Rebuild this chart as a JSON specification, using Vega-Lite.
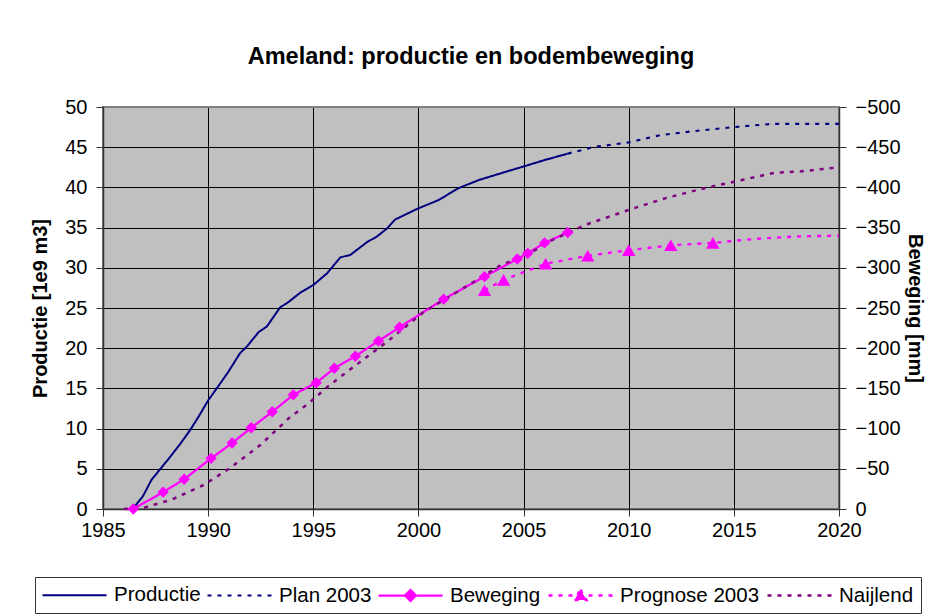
{
  "$schema": "https://vega.github.io/schema/vega-lite/v6.json",
  "width": 736,
  "height": 402,
  "autosize": {"type": "none"},
  "padding": {"left": 103, "top": 107, "right": 101, "bottom": 107},
  "background": "white",
  "title": {
    "text": "Ameland: productie en bodembeweging",
    "fontSize": 23.5,
    "fontWeight": "bold",
    "font": "Liberation Sans",
    "color": "black",
    "anchor": "middle",
    "frame": "group",
    "baseline": "alphabetic",
    "offset": 10
  },
  "datasets": {
    "prod": [
      {"series": "Productie", "year": 1986.44, "value": 0.1},
      {"series": "Productie", "year": 1986.9, "value": 1.6},
      {"series": "Productie", "year": 1987.3, "value": 3.6},
      {"series": "Productie", "year": 1987.7, "value": 4.9},
      {"series": "Productie", "year": 1988.2, "value": 6.5},
      {"series": "Productie", "year": 1988.7, "value": 8.2},
      {"series": "Productie", "year": 1989.14, "value": 9.8},
      {"series": "Productie", "year": 1989.55, "value": 11.5},
      {"series": "Productie", "year": 1990.0, "value": 13.5},
      {"series": "Productie", "year": 1990.41, "value": 15.0},
      {"series": "Productie", "year": 1990.97, "value": 17.1},
      {"series": "Productie", "year": 1991.52, "value": 19.4},
      {"series": "Productie", "year": 1991.84, "value": 20.2},
      {"series": "Productie", "year": 1992.4, "value": 22.0},
      {"series": "Productie", "year": 1992.79, "value": 22.7},
      {"series": "Productie", "year": 1993.43, "value": 25.1},
      {"series": "Productie", "year": 1993.75, "value": 25.6},
      {"series": "Productie", "year": 1994.38, "value": 26.9},
      {"series": "Productie", "year": 1995.02, "value": 27.9},
      {"series": "Productie", "year": 1995.65, "value": 29.3},
      {"series": "Productie", "year": 1996.29, "value": 31.3},
      {"series": "Productie", "year": 1996.76, "value": 31.6},
      {"series": "Productie", "year": 1997.56, "value": 33.2},
      {"series": "Productie", "year": 1998.03, "value": 33.9},
      {"series": "Productie", "year": 1998.51, "value": 34.9},
      {"series": "Productie", "year": 1998.89, "value": 36.0},
      {"series": "Productie", "year": 1999.52, "value": 36.8},
      {"series": "Productie", "year": 2000.0, "value": 37.4},
      {"series": "Productie", "year": 2000.94, "value": 38.4},
      {"series": "Productie", "year": 2001.9, "value": 39.9},
      {"series": "Productie", "year": 2002.85, "value": 40.9},
      {"series": "Productie", "year": 2004.1, "value": 41.9},
      {"series": "Productie", "year": 2005.0, "value": 42.6},
      {"series": "Productie", "year": 2006.0, "value": 43.4},
      {"series": "Productie", "year": 2007.1, "value": 44.2},
      {"series": "Plan 2003", "year": 2007.1, "value": 44.2},
      {"series": "Plan 2003", "year": 2008.3, "value": 45.0},
      {"series": "Plan 2003", "year": 2010.0, "value": 45.6},
      {"series": "Plan 2003", "year": 2011.5, "value": 46.5},
      {"series": "Plan 2003", "year": 2013.1, "value": 47.0},
      {"series": "Plan 2003", "year": 2015.0, "value": 47.5},
      {"series": "Plan 2003", "year": 2016.8, "value": 47.9},
      {"series": "Plan 2003", "year": 2020.0, "value": 47.9}
    ],
    "mm": [
      {"series": "Beweging", "year": 1986.44, "value": 0},
      {"series": "Beweging", "year": 1987.86, "value": -21},
      {"series": "Beweging", "year": 1988.86, "value": -37},
      {"series": "Beweging", "year": 1990.14, "value": -63},
      {"series": "Beweging", "year": 1991.14, "value": -82},
      {"series": "Beweging", "year": 1992.05, "value": -101},
      {"series": "Beweging", "year": 1993.05, "value": -121},
      {"series": "Beweging", "year": 1994.05, "value": -142},
      {"series": "Beweging", "year": 1995.14, "value": -157},
      {"series": "Beweging", "year": 1996.0, "value": -175},
      {"series": "Beweging", "year": 1997.0, "value": -190},
      {"series": "Beweging", "year": 1998.1, "value": -209},
      {"series": "Beweging", "year": 1999.1, "value": -226},
      {"series": "Beweging", "year": 2001.2, "value": -261},
      {"series": "Beweging", "year": 2003.14, "value": -289},
      {"series": "Beweging", "year": 2004.7, "value": -311},
      {"series": "Beweging", "year": 2005.2, "value": -318},
      {"series": "Beweging", "year": 2006.0, "value": -331},
      {"series": "Beweging", "year": 2007.1, "value": -344},
      {"series": "Prognose 2003", "year": 2003.14, "value": -272},
      {"series": "Prognose 2003", "year": 2004.05, "value": -285},
      {"series": "Prognose 2003", "year": 2006.05, "value": -305},
      {"series": "Prognose 2003", "year": 2008.05, "value": -315},
      {"series": "Prognose 2003", "year": 2010.0, "value": -322},
      {"series": "Prognose 2003", "year": 2012.0, "value": -328},
      {"series": "Prognose 2003", "year": 2014.0, "value": -331},
      {"series": "Prognose 2003", "year": 2016.0, "value": -336},
      {"series": "Prognose 2003", "year": 2018.0, "value": -339},
      {"series": "Prognose 2003", "year": 2020.0, "value": -340},
      {"series": "Naijlend", "year": 1986.0, "value": 0},
      {"series": "Naijlend", "year": 1987.0, "value": -2},
      {"series": "Naijlend", "year": 1988.3, "value": -12},
      {"series": "Naijlend", "year": 1989.8, "value": -30},
      {"series": "Naijlend", "year": 1991.1, "value": -52},
      {"series": "Naijlend", "year": 1992.5, "value": -80},
      {"series": "Naijlend", "year": 1993.84, "value": -113},
      {"series": "Naijlend", "year": 1994.76, "value": -131},
      {"series": "Naijlend", "year": 1995.68, "value": -152},
      {"series": "Naijlend", "year": 1996.62, "value": -171},
      {"series": "Naijlend", "year": 1997.54, "value": -189},
      {"series": "Naijlend", "year": 1998.46, "value": -207},
      {"series": "Naijlend", "year": 2000.2, "value": -244},
      {"series": "Naijlend", "year": 2002.6, "value": -282},
      {"series": "Naijlend", "year": 2003.9, "value": -303},
      {"series": "Naijlend", "year": 2005.3, "value": -318},
      {"series": "Naijlend", "year": 2006.4, "value": -335},
      {"series": "Naijlend", "year": 2008.0, "value": -354},
      {"series": "Naijlend", "year": 2010.0, "value": -372},
      {"series": "Naijlend", "year": 2011.8, "value": -387},
      {"series": "Naijlend", "year": 2013.6, "value": -399},
      {"series": "Naijlend", "year": 2015.0, "value": -407},
      {"series": "Naijlend", "year": 2016.9, "value": -418},
      {"series": "Naijlend", "year": 2018.2, "value": -420},
      {"series": "Naijlend", "year": 2020.0, "value": -425}
    ]
  },
  "encoding": {
    "x": {
      "field": "year",
      "type": "quantitative",
      "scale": {"domain": [1985, 2020], "nice": false, "zero": false},
      "axis": {
        "title": null,
        "values": [1985, 1990, 1995, 2000, 2005, 2010, 2015, 2020],
        "format": "d",
        "labelFlush": false,
        "labelPadding": 4,
        "grid": true
      }
    },
    "color": {
      "field": "series",
      "type": "nominal",
      "scale": {
        "domain": ["Productie", "Plan 2003", "Beweging", "Prognose 2003", "Naijlend"],
        "range": ["#000080", "#000080", "#FF00FF", "#FF00FF", "#800080"]
      },
      "legend": {
        "title": null,
        "orient": "none",
        "legendX": -68,
        "legendY": 470,
        "direction": "horizontal",
        "columns": 5,
        "padding": 7,
        "strokeColor": "#333333",
        "fillColor": "white",
        "labelFont": "Liberation Sans",
        "labelFontSize": 20.5,
        "labelColor": "black",
        "labelBaseline": "middle",
        "labelOffset": 28,
        "symbolOffset": 21,
        "symbolSize": 400,
        "symbolStrokeWidth": 2,
        "columnPadding": 2,
        "symbolType": "M-3.2,0H3.2",
        "encode": {
          "symbols": {
            "update": {
              "shape": {"signal": "datum.value === 'Beweging' ? 'M-3.2,0H3.2M0,-0.55L0.55,0L0,0.55L-0.55,0Z' : datum.value === 'Prognose 2003' ? 'M-3.2,0H3.2M0,-0.6L0.6,0.45L-0.6,0.45Z' : 'M-3.2,0H3.2'"},
              "fill": {"signal": "datum.value === 'Beweging' || datum.value === 'Prognose 2003' ? '#FF00FF' : 'transparent'"}
            }
          }
        }
      }
    },
    "strokeDash": {
      "field": "series",
      "type": "nominal",
      "scale": {
        "domain": ["Productie", "Plan 2003", "Beweging", "Prognose 2003", "Naijlend"],
        "range": [[1, 0], [4, 6], [1, 0], [4, 6], [4, 6]]
      },
      "legend": null
    },
    "strokeWidth": {
      "field": "series",
      "type": "nominal",
      "scale": {
        "domain": ["Productie", "Plan 2003", "Beweging", "Prognose 2003", "Naijlend"],
        "range": [2, 2.5, 1.6, 2.5, 2.5]
      },
      "legend": null
    }
  },
  "layer": [
    {
      "data": {"name": "prod"},
      "mark": {"type": "line"},
      "encoding": {
        "y": {
          "field": "value",
          "type": "quantitative",
          "scale": {"domain": [0, 50], "nice": false},
          "axis": {
            "orient": "left",
            "title": "Productie [1e9 m3]",
            "values": [0, 5, 10, 15, 20, 25, 30, 35, 40, 45, 50],
            "grid": true,
            "gridColor": {"condition": {"test": "datum.value == 50", "value": "#808080"}, "value": "#000000"},
            "labelPadding": 9,
            "titlePadding": 14
          }
        }
      }
    },
    {
      "data": {"name": "mm"},
      "encoding": {
        "y": {
          "field": "value",
          "type": "quantitative",
          "scale": {"domain": [0, -500], "nice": false},
          "axis": {
            "orient": "right",
            "title": "Beweging [mm]",
            "values": [0, -50, -100, -150, -200, -250, -300, -350, -400, -450, -500],
            "grid": false,
            "labelPadding": 9,
            "titlePadding": 4
          }
        }
      },
      "layer": [
        {"mark": {"type": "line"}},
        {
          "transform": [{"filter": "datum.series === 'Beweging'"}],
          "mark": {"type": "point", "shape": "diamond", "filled": true, "size": 130, "color": "#FF00FF", "opacity": 1, "strokeWidth": 0}
        },
        {
          "transform": [{"filter": "datum.series === 'Prognose 2003' && datum.year <= 2014.5"}],
          "mark": {"type": "point", "shape": "triangle-up", "filled": true, "size": 180, "color": "#FF00FF", "opacity": 1, "strokeWidth": 0}
        }
      ]
    }
  ],
  "resolve": {"scale": {"y": "independent"}},
  "config": {
    "font": "Liberation Sans",
    "view": {"fill": "#C0C0C0", "stroke": "#808080", "strokeWidth": 2},
    "axis": {
      "labelFont": "Liberation Sans",
      "labelFontSize": 20,
      "labelColor": "black",
      "titleFont": "Liberation Sans",
      "titleFontSize": 20,
      "titleFontWeight": "bold",
      "titleColor": "black",
      "domainColor": "#333333",
      "domainWidth": 1.5,
      "tickColor": "#333333",
      "tickSize": 7,
      "gridColor": "#000000",
      "gridOpacity": 1,
      "gridWidth": 1
    }
  }
}
